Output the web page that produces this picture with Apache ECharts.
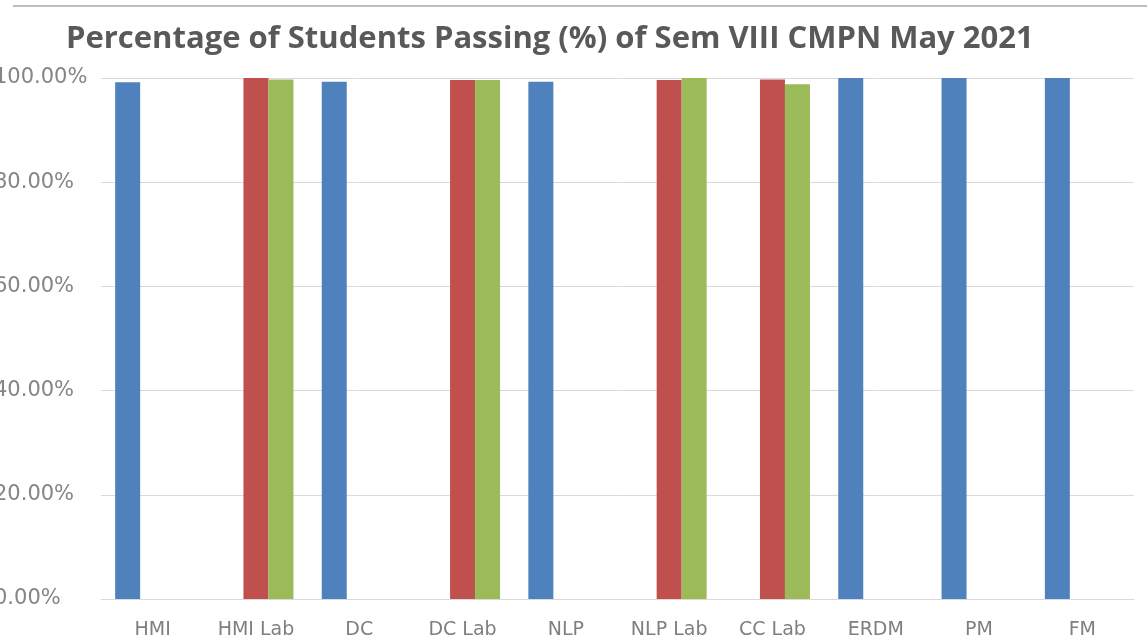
<!DOCTYPE html>
<html>
<head>
<meta charset="utf-8">
<title>Percentage of Students Passing (%) of Sem VIII CMPN May 2021</title>
<script src="https://cdn.jsdelivr.net/npm/echarts@6/dist/echarts.min.js"></script>
<style>
  html, body { margin: 0; padding: 0; background: #ffffff; }
  #chart { width: 1147px; height: 643px; }
</style>
</head>
<body>
<div id="chart"></div>
<script>
// Subjects of Sem VIII CMPN (theory papers and labs)
const subjects = ['HMI', 'HMI Lab', 'DC', 'DC Lab', 'NLP', 'NLP Lab', 'CC Lab', 'ERDM', 'PM', 'FM'];

// Pass percentage per subject, one array per assessment head (null = not applicable)
const seriesBlue  = [99.2, null, 99.3, null, 99.3, null, null, 100, 100, 100];
const seriesRed   = [null, 100, null, 99.6, null, 99.6, 99.7, null, null, null];
const seriesGreen = [null, 99.7, null, 99.6, null, 100, 98.8, null, null, null];

// Value axis ticks
const yMin = 0, yMax = 100, yStep = 20;

const chart = echarts.init(document.getElementById('chart'), null, { renderer: 'canvas' });

const labelFont = 'DejaVu Sans';
const barW = 25;

chart.setOption({
  animation: false,
  backgroundColor: '#ffffff',
  title: {
    text: 'Percentage of Students Passing (%) of Sem VIII CMPN May 2021',
    left: 61,
    top: 19,
    textStyle: {
      fontFamily: 'Open Sans',
      fontWeight: 'bold',
      fontSize: 31,
      color: '#595959'
    }
  },
  graphic: [{
    type: 'line',
    shape: { x1: 13, y1: 6, x2: 1147, y2: 6 },
    style: { stroke: '#bfbfbf', lineWidth: 2 },
    silent: true
  }],
  grid: {
    left: 101, right: 13, top: 78, bottom: 44,
    containLabel: false,
    outerBoundsMode: 'none'
  },
  xAxis: {
    type: 'category',
    data: subjects,
    axisTick: { show: false },
    axisLine: { lineStyle: { color: '#d9d9d9', width: 1 } },
    axisLabel: {
      fontFamily: labelFont,
      fontSize: 19,
      color: '#7f7f7f',
      margin: 22,
      interval: 0
    }
  },
  yAxis: {
    type: 'value',
    min: yMin,
    max: yMax,
    interval: yStep,
    axisLine: { show: false },
    axisTick: { show: false },
    splitLine: { lineStyle: { color: '#d9d9d9', width: 1 } },
    axisLabel: {
      fontFamily: labelFont,
      fontSize: 21,
      color: '#858585',
      align: 'left',
      margin: 107,
      formatter: v => v.toFixed(2) + '%'
    }
  },
  series: [
    { type: 'bar', data: seriesBlue,  barWidth: barW, barGap: '0%', itemStyle: { color: '#4f81bd' } },
    { type: 'bar', data: seriesRed,   barWidth: barW, barGap: '0%', itemStyle: { color: '#c0504d' } },
    { type: 'bar', data: seriesGreen, barWidth: barW, barGap: '0%', itemStyle: { color: '#9bbb59' } }
  ]
});
</script>
</body>
</html>
